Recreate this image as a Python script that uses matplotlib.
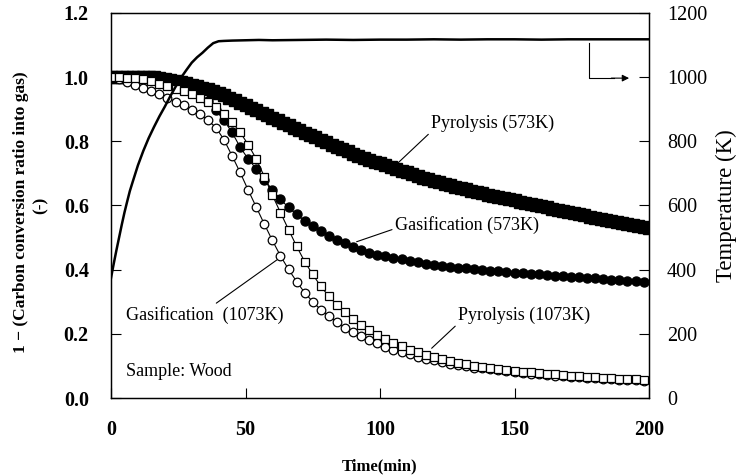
import numpy as np
import matplotlib
matplotlib.use("Agg")
import matplotlib.pyplot as plt

plt.rcParams['font.family'] = ['Liberation Serif', 'DejaVu Serif']
plt.rcParams['mathtext.fontset'] = 'stix'

# ---- data ----
t_pyro573 = np.arange(0, 201, 2)
pyro573 = [1.000, 1.000, 1.000, 1.000, 1.000, 1.000, 1.000, 1.000, 0.999, 0.997,
           0.995, 0.992, 0.989, 0.985, 0.981, 0.977, 0.972, 0.967, 0.962, 0.958,
           0.951, 0.944, 0.936, 0.929, 0.921, 0.913, 0.905, 0.897, 0.889, 0.881,
           0.874, 0.866, 0.858, 0.850, 0.843, 0.835, 0.827, 0.820, 0.812, 0.805,
           0.797, 0.790, 0.783, 0.776, 0.769, 0.761, 0.755, 0.749, 0.743, 0.737,
           0.731, 0.725, 0.719, 0.714, 0.708, 0.703, 0.697, 0.692, 0.687, 0.682,
           0.677, 0.672, 0.668, 0.663, 0.659, 0.654, 0.650, 0.646, 0.642, 0.638,
           0.634, 0.631, 0.627, 0.623, 0.620, 0.616, 0.612, 0.608, 0.605, 0.601,
           0.597, 0.594, 0.590, 0.586, 0.583, 0.579, 0.576, 0.572, 0.569, 0.565,
           0.562, 0.558, 0.555, 0.552, 0.548, 0.545, 0.542, 0.538, 0.535, 0.532,
           0.529]

t3 = np.arange(0, 199, 3)
gas573 = [1.000, 1.000, 1.000, 1.000, 1.000, 0.999, 0.997, 0.993, 0.985, 0.975,
          0.962, 0.950, 0.925, 0.897, 0.865, 0.828, 0.782, 0.745, 0.714, 0.680,
          0.649, 0.619, 0.594, 0.572, 0.553, 0.537, 0.521, 0.506, 0.493, 0.482,
          0.471, 0.461, 0.453, 0.446, 0.442, 0.437, 0.432, 0.427, 0.423, 0.419,
          0.415, 0.412, 0.409, 0.406, 0.404, 0.402, 0.399, 0.397, 0.395, 0.393,
          0.391, 0.389, 0.387, 0.385, 0.383, 0.381, 0.379, 0.378, 0.376, 0.374,
          0.373, 0.371, 0.369, 0.368, 0.366, 0.364, 0.363]

gas1073 = [1.000, 0.995, 0.986, 0.976, 0.966, 0.956, 0.946, 0.935, 0.924, 0.912,
           0.899, 0.885, 0.866, 0.843, 0.805, 0.755, 0.703, 0.648, 0.595, 0.542,
           0.491, 0.443, 0.401, 0.363, 0.328, 0.300, 0.275, 0.256, 0.237, 0.219,
           0.205, 0.192, 0.181, 0.170, 0.160, 0.151, 0.143, 0.136, 0.129, 0.123,
           0.117, 0.112, 0.107, 0.103, 0.099, 0.095, 0.092, 0.089, 0.086, 0.083,
           0.081, 0.078, 0.076, 0.074, 0.072, 0.070, 0.068, 0.066, 0.065, 0.063,
           0.062, 0.060, 0.059, 0.057, 0.056, 0.055, 0.054]

pyro1073 = [1.000, 1.000, 0.998, 0.996, 0.993, 0.988, 0.980, 0.972, 0.964, 0.956,
            0.946, 0.935, 0.923, 0.906, 0.885, 0.860, 0.828, 0.790, 0.745, 0.690,
            0.632, 0.578, 0.525, 0.473, 0.425, 0.385, 0.348, 0.317, 0.290, 0.267,
            0.246, 0.228, 0.212, 0.197, 0.184, 0.172, 0.161, 0.151, 0.142, 0.134,
            0.127, 0.121, 0.115, 0.110, 0.105, 0.101, 0.097, 0.094, 0.091, 0.088,
            0.085, 0.082, 0.080, 0.078, 0.076, 0.074, 0.072, 0.070, 0.068, 0.066,
            0.065, 0.063, 0.062, 0.060, 0.059, 0.058, 0.057]

t_temp = [0, 1, 2, 3, 4, 5, 6, 7, 8, 10, 12, 14, 16, 18, 20, 22, 24, 26, 28, 30,
          32, 34, 36, 38, 40, 42, 45, 50, 55, 60, 70, 80, 90, 100, 110, 120, 130,
          140, 150, 160, 170, 180, 190, 200]
temp = [374, 418, 460, 500, 540, 578, 612, 645, 672, 725, 770, 810, 845, 878,
        908, 940, 970, 998, 1022, 1045, 1062, 1076, 1092, 1106, 1112, 1113, 1114,
        1115, 1116, 1115, 1116, 1117, 1116, 1117, 1117, 1118, 1117, 1118, 1118,
        1117, 1118, 1118, 1118, 1118]

xticks = [0, 50, 100, 150, 200]
yticks_left = [0.0, 0.2, 0.4, 0.6, 0.8, 1.0, 1.2]
yticks_right = [0, 200, 400, 600, 800, 1000, 1200]

# ---- figure ----
fig = plt.figure(figsize=(7.41, 4.76), dpi=100)
ax = fig.add_axes([111/741, 78/476, 538/741, 385/476])
ax2 = ax.twinx()

ax.plot(t_pyro573, pyro573, ls='-', color='black', lw=0.8, marker='s', ms=8,
        mfc='black', mec='black', zorder=3)
ax.plot(t3, gas573, ls='-', color='black', lw=0.8, marker='o', ms=6.5,
        mfc='black', mec='black', zorder=3)
ax.plot(t3, pyro1073, ls='-', color='black', lw=0.8, marker='s', ms=6.4,
        mfc='white', mec='black', mew=0.9, zorder=4)
ax.plot(t3, gas1073, ls='-', color='black', lw=0.8, marker='o', ms=6.2,
        mfc='white', mec='black', mew=0.9, zorder=3)

ax2.plot(t_temp, temp, color='black', lw=1.8)

ax.set_xlim(0, 200)
ax.set_ylim(0, 1.2)
ax2.set_ylim(0, 1200)
ax.set_xticks(xticks)
ax.set_yticks(yticks_left)
ax.set_yticklabels([f"{v:.1f}" for v in yticks_left], fontweight='bold', fontsize=14.5)
ax.set_xticklabels([str(v) for v in xticks], fontweight='bold', fontsize=14.5)
ax2.set_yticks(yticks_right)
ax2.set_yticklabels([str(v) for v in yticks_right], fontsize=14.5)

ax.tick_params(axis='both', direction='in', length=7, width=0.8)
ax.tick_params(axis='y', pad=16)
ax.tick_params(axis='x', pad=16)
ax2.tick_params(axis='y', direction='in', length=7, width=0.8, pad=13)
for a in (ax, ax2):
    for s in a.spines.values():
        s.set_linewidth(0.9)

ax.set_xlabel("Time(min)", fontweight='bold', fontsize=12, labelpad=13)
fig.text(21/741, 1 - 212/476, "1 \u2212 (Carbon conversion ratio into gas)",
         rotation=90, ha='center', va='center', fontweight='bold', fontsize=12.5)
fig.text(41/741, 1 - 205/476, "(-)", rotation=90, ha='center', va='center',
         fontweight='bold', fontsize=12.5)
ax2.set_ylabel("Temperature (K)", fontsize=16.5, labelpad=6)

# annotations
fs = 13
ax.annotate("Pyrolysis (573K)", xy=(106.6, 0.732), xytext=(119, 0.857),
            ha='left', va='center', fontsize=fs,
            arrowprops=dict(arrowstyle='-', color='black', lw=0.8,
                            shrinkA=0, shrinkB=0, relpos=(0, 0)))
ax.annotate("Gasification (573K)", xy=(91.3, 0.487), xytext=(105.5, 0.539),
            ha='left', va='center', fontsize=fs,
            arrowprops=dict(arrowstyle='-', color='black', lw=0.8,
                            shrinkA=0, shrinkB=0, relpos=(0, 0.3)))
ax.annotate("Gasification  (1073K)", xy=(61.6, 0.430), xytext=(5.5, 0.259),
            ha='left', va='center', fontsize=fs,
            arrowprops=dict(arrowstyle='-', color='black', lw=0.8,
                            shrinkA=0, shrinkB=0, relpos=(0.55, 1.0)))
ax.annotate("Pyrolysis (1073K)", xy=(119.2, 0.155), xytext=(129, 0.259),
            ha='left', va='center', fontsize=fs,
            arrowprops=dict(arrowstyle='-', color='black', lw=0.8,
                            shrinkA=0, shrinkB=0, relpos=(0, 0.0)))
ax.text(5.5, 0.082, "Sample: Wood", ha='left', va='center', fontsize=fs)

# arrow indicating right axis
ax2.plot([177.7, 177.7, 187], [1107, 997, 997], color='black', lw=0.8)
ax2.annotate("", xy=(192.6, 997), xytext=(186, 997),
             arrowprops=dict(arrowstyle='-|>', color='black', lw=0.8,
                             mutation_scale=10, shrinkA=0, shrinkB=0))

fig.savefig("out.png", dpi=100)
